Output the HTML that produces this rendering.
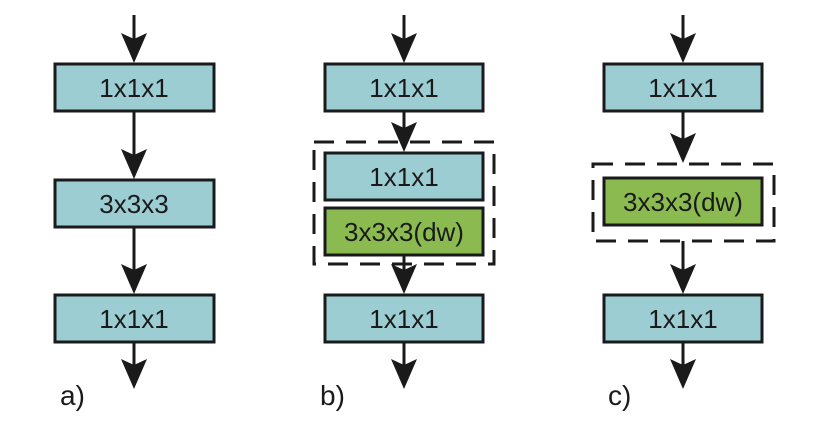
<!DOCTYPE html>
<html><head><style>body{margin:0;background:#fff}</style></head><body>
<svg width="818" height="426" viewBox="0 0 818 426" xmlns="http://www.w3.org/2000/svg" font-family="Liberation Sans, DejaVu Sans, sans-serif">
<g stroke="#1a1a1a" stroke-width="3" fill="none">
<line x1="134" y1="15" x2="134" y2="45"/>
<line x1="134" y1="111" x2="134" y2="160"/>
<line x1="134" y1="227" x2="134" y2="275"/>
<line x1="134" y1="342" x2="134" y2="370"/>
<line x1="404" y1="15" x2="404" y2="45"/>
<line x1="404" y1="111" x2="404" y2="135"/>
<line x1="404" y1="255" x2="404" y2="275"/>
<line x1="404" y1="342" x2="404" y2="370"/>
<line x1="683" y1="15" x2="683" y2="45"/>
<line x1="683" y1="111" x2="683" y2="145"/>
<line x1="683" y1="241" x2="683" y2="275"/>
<line x1="683" y1="342" x2="683" y2="370"/>
</g>
<g fill="#1a1a1a">
<polygon points="121,33 134,39 147,33 134,63"/>
<polygon points="121,149 134,155 147,149 134,179"/>
<polygon points="121,264 134,270 147,264 134,294"/>
<polygon points="121,359 134,365 147,359 134,389"/>
<polygon points="391,33 404,39 417,33 404,63"/>
<polygon points="391,122 404,128 417,122 404,152"/>
<polygon points="391,264 404,270 417,264 404,294"/>
<polygon points="391,359 404,365 417,359 404,389"/>
<polygon points="670,33 683,39 696,33 683,63"/>
<polygon points="670,133 683,139 696,133 683,163"/>
<polygon points="670,264 683,270 696,264 683,294"/>
<polygon points="670,359 683,365 696,359 683,389"/>
</g>
<g stroke="#1a1a1a" stroke-width="3">
<rect x="55" y="64" width="159" height="47" fill="#9ccdd3"/>
<rect x="55" y="180" width="159" height="47" fill="#9ccdd3"/>
<rect x="55" y="295" width="159" height="47" fill="#9ccdd3"/>
<rect x="325" y="64" width="158" height="47" fill="#9ccdd3"/>
<rect x="325" y="153" width="158" height="47" fill="#9ccdd3"/>
<rect x="325" y="208" width="158" height="47" fill="#8bbb50"/>
<rect x="325" y="295" width="158" height="47" fill="#9ccdd3"/>
<rect x="604" y="64" width="158" height="47" fill="#9ccdd3"/>
<rect x="604" y="178" width="158" height="47" fill="#8bbb50"/>
<rect x="604" y="295" width="158" height="47" fill="#9ccdd3"/>
</g>
<g stroke="#1a1a1a" stroke-width="3" fill="none" stroke-dasharray="20,12">
<rect x="314" y="142" width="180" height="122"/>
<rect x="593" y="164" width="181" height="77"/>
</g>
<g font-size="26" fill="#1a1a1a" text-anchor="middle">
<text x="134" y="97">1x1x1</text>
<text x="134" y="213">3x3x3</text>
<text x="134" y="328">1x1x1</text>
<text x="404" y="97">1x1x1</text>
<text x="404" y="186">1x1x1</text>
<text x="404" y="241">3x3x3(dw)</text>
<text x="404" y="328">1x1x1</text>
<text x="683" y="97">1x1x1</text>
<text x="683" y="211">3x3x3(dw)</text>
<text x="683" y="328">1x1x1</text>
</g>
<g font-size="28" fill="#1a1a1a">
<text x="60" y="405">a)</text>
<text x="320" y="405">b)</text>
<text x="608" y="405">c)</text>
</g>
</svg>
</body></html>
